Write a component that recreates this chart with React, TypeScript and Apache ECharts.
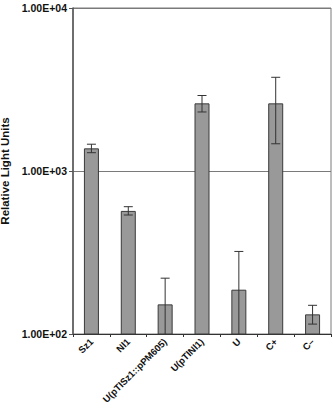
import React, { useEffect, useRef } from "react";
import * as echarts from "echarts";

const categories = ["Sz1", "Nl1", "U(pTlSz1::pPM605)", "U(pTlNl1)", "U", "C+", "C\u2013"];
const values = [1377, 569, 152, 2600, 187, 2600, 132];
const errLow = [1295, 537, 84, 2302, 53, 1469, 115];
const errHigh = [1460, 604, 220, 2905, 321, 3758, 150];
const yMin = 100;
const yMax = 10000;

function fmt(v: number) {
  const e = Math.round(Math.log10(v));
  return "1.00E+" + (e < 10 ? "0" + e : String(e));
}

export default function App() {
  const ref = useRef<HTMLDivElement>(null);
  useEffect(() => {
    const chart = echarts.init(ref.current!, undefined, { renderer: "svg" });
    const font = "'Liberation Sans', Arial, sans-serif";
    chart.setOption({
      animation: false,
      grid: {
        left: 73,
        right: 2,
        top: 8,
        bottom: 74,
        containLabel: false,
        outerBoundsMode: "none",
        show: true,
        borderColor: "#7a7a7a",
        borderWidth: 1,
      },
      xAxis: {
        type: "category",
        data: categories,
        axisLine: { lineStyle: { color: "#333", width: 1.2 } },
        axisTick: { show: true, length: 3, lineStyle: { color: "#333" } },
        axisLabel: {
          rotate: 45,
          interval: 0,
          fontSize: 9.5,
          fontWeight: "bold",
          fontFamily: font,
          color: "#111",
          margin: 6,
        },
      },
      yAxis: {
        type: "log",
        logBase: 10,
        min: yMin,
        max: yMax,
        name: "Relative Light Units",
        nameLocation: "middle",
        nameGap: 56,
        nameRotate: 90,
        nameTextStyle: { fontSize: 11.5, fontWeight: "bold", fontFamily: font, color: "#111" },
        axisLine: { show: true, lineStyle: { color: "#555", width: 1.5 } },
        axisTick: { show: true, length: 4, lineStyle: { color: "#555" } },
        axisLabel: {
          formatter: (v: number) => fmt(v),
          fontSize: 10.5,
          fontWeight: "bold",
          fontFamily: font,
          color: "#111",
          margin: 6,
        },
        splitLine: { show: true, lineStyle: { color: "#7a7a7a", width: 1 } },
        minorTick: { show: false },
      },
      series: [
        {
          type: "bar",
          data: values,
          barWidth: 15,
          itemStyle: { color: "#999999", borderColor: "#3a3a3a", borderWidth: 1 },
        },
        {
          type: "custom",
          data: categories.map((_, i) => [i, errLow[i], errHigh[i]]),
          renderItem: (params: any, api: any) => {
            const i = api.value(0);
            const lo = Math.max(api.value(1), yMin);
            const hi = api.value(2);
            const pHi = api.coord([i, hi]);
            const pLo = api.coord([i, lo]);
            const w = 4.5;
            const style = { stroke: "#333", lineWidth: 1 };
            const children: any[] = [
              { type: "line", shape: { x1: pHi[0], y1: pHi[1], x2: pLo[0], y2: pLo[1] }, style },
              { type: "line", shape: { x1: pHi[0] - w, y1: pHi[1], x2: pHi[0] + w, y2: pHi[1] }, style },
            ];
            if (api.value(1) > yMin) {
              children.push({ type: "line", shape: { x1: pLo[0] - w, y1: pLo[1], x2: pLo[0] + w, y2: pLo[1] }, style });
            }
            return { type: "group", children };
          },
          z: 5,
        },
      ],
    });
    return () => chart.dispose();
  }, []);
  return <div ref={ref} style={{ width: 333, height: 408, position: "absolute", left: 0, top: 0 }} />;
}
